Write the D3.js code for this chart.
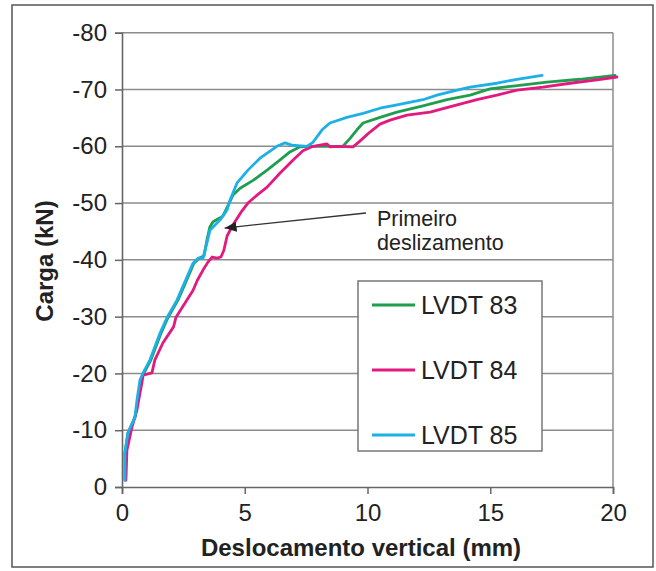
<!DOCTYPE html>
<html>
<head>
<meta charset="utf-8">
<script src="https://cdn.jsdelivr.net/npm/d3@7/dist/d3.min.js"></script>
<style>
html,body{margin:0;padding:0;background:#fff;}
svg{display:block;}
text{font-family:"Liberation Sans",Arial,sans-serif;fill:#222;}
</style>
</head>
<body>
<svg id="chart" width="656" height="571"></svg>
<script>
// ---- data ----
const xTicks = [0, 5, 10, 15, 20];
const yTicks = [0, -10, -20, -30, -40, -50, -60, -70, -80];
const seriesNames = ["LVDT 83", "LVDT 84", "LVDT 85"];

const lvdt83X = [0.12,0.12,0.24,0.53,0.65,0.77,0.90,1.18,1.59,1.87,2.28,2.69,2.93,3.14,3.34,3.46,3.58,3.71,4.11,4.32,4.52,4.81,5.34,5.91,6.44,6.84,7.25,7.66,9.00,9.29,9.57,9.82,10.51,11.20,12.26,13.24,14.18,14.99,15.93,17.31,18.66,20.08];
const lvdt83Y = [-1.2,-6.0,-9.5,-12.3,-15.3,-18.8,-20.1,-22.4,-27.1,-29.8,-32.9,-37.0,-39.4,-40.3,-40.7,-43.5,-45.8,-46.7,-47.7,-49.6,-51.4,-52.6,-54.0,-55.8,-57.6,-59.0,-59.9,-60.0,-60.0,-61.4,-62.9,-64.1,-65.1,-66.0,-67.1,-68.2,-69.0,-70.1,-70.6,-71.3,-71.8,-72.5];

const lvdt84X = [0.16,0.20,0.41,0.61,0.73,0.81,0.86,1.22,1.34,1.67,2.10,2.20,2.89,3.07,3.30,3.50,3.67,3.87,4.03,4.15,4.28,4.40,4.60,4.85,5.13,5.50,5.91,6.44,6.97,7.37,7.78,8.35,8.47,8.76,9.41,9.69,10.10,10.51,10.92,11.61,12.55,13.65,14.46,15.27,16.09,17.15,18.25,19.35,20.16];
const lvdt84Y = [-1.2,-6.5,-10.6,-13.6,-16.5,-18.3,-19.7,-20.1,-22.4,-25.4,-28.2,-29.9,-34.6,-36.4,-38.2,-39.6,-40.5,-40.3,-40.5,-41.7,-44.2,-45.2,-46.7,-48.4,-50.0,-51.4,-52.8,-55.3,-57.6,-59.2,-60.0,-60.4,-59.9,-60.0,-59.9,-60.9,-62.5,-63.9,-64.6,-65.5,-66.0,-67.3,-68.2,-69.0,-69.9,-70.4,-71.1,-71.7,-72.2];

const lvdt85X = [0.12,0.12,0.24,0.53,0.61,0.73,0.86,1.14,1.55,1.83,2.24,2.65,2.89,3.10,3.30,3.46,3.58,3.99,4.28,4.40,4.68,5.13,5.62,6.31,6.64,6.92,7.54,7.78,8.15,8.47,9.16,9.82,10.51,11.20,12.26,12.83,13.65,14.18,15.27,16.09,17.11];
const lvdt85Y = [-1.2,-6.0,-9.5,-12.3,-15.3,-18.8,-20.1,-22.4,-27.1,-29.8,-32.9,-37.0,-39.4,-40.3,-40.3,-43.0,-45.2,-47.0,-48.8,-50.5,-53.5,-55.8,-57.9,-60.0,-60.6,-60.2,-60.0,-60.7,-62.9,-64.1,-65.1,-65.8,-66.7,-67.3,-68.2,-69.0,-69.9,-70.4,-71.1,-71.8,-72.5];

// annotation: arrow points at (x, load)
const annotationText = ["Primeiro", "deslizamento"];
const annotationTarget = [4.18, -45.6];

// ---- styles ----
const colors = ["#1f9e4f", "#e2197f", "#1db0e6"];

const series = [
  {name: seriesNames[0], xs: lvdt83X, ys: lvdt83Y, color: colors[0]},
  {name: seriesNames[1], xs: lvdt84X, ys: lvdt84Y, color: colors[1]},
  {name: seriesNames[2], xs: lvdt85X, ys: lvdt85Y, color: colors[2]}
].map(s => ({...s, pts: s.xs.map((x, i) => [x, s.ys[i]])}));

const svg = d3.select("#chart");
const L = 122, R = 613, T = 32.7, B = 487;
const x = d3.scaleLinear().domain([0, 20]).range([L, R]);
const y = d3.scaleLinear().domain([0, -80]).range([B, T]);

// outer frame
svg.append("rect").attr("x", 12).attr("y", 5).attr("width", 641).attr("height", 562)
  .attr("fill", "#fff").attr("stroke", "#555").attr("stroke-width", 1.5);

// gridlines
svg.append("g").selectAll("line").data(yTicks.filter(d => d !== 0)).join("line")
  .attr("x1", L).attr("x2", R).attr("y1", d => y(d)).attr("y2", d => y(d))
  .attr("stroke", "#8c8c8c").attr("stroke-width", 1.5);

// plot border right
svg.append("line").attr("x1", R).attr("x2", R).attr("y1", T).attr("y2", B)
  .attr("stroke", "#8c8c8c").attr("stroke-width", 1.5);

// axes
const xAxis = d3.axisBottom(x).tickValues(xTicks).tickSize(7).tickPadding(10).tickFormat(d => String(d));
const yAxis = d3.axisLeft(y).tickValues(yTicks).tickSize(7).tickPadding(8).tickFormat(d => String(d));

const gx = svg.append("g").attr("transform", `translate(0,${B})`).call(xAxis);
const gy = svg.append("g").attr("transform", `translate(${L},0)`).call(yAxis);
[gx, gy].forEach(g => {
  g.select(".domain").attr("stroke", "#666").attr("stroke-width", 1.6);
  g.selectAll(".tick line").attr("stroke", "#666").attr("stroke-width", 1.5);
  g.selectAll(".tick text").attr("font-size", 24).attr("fill", "#222")
    .style("font-family", '"Liberation Sans", Arial, sans-serif');
});

// axis titles
svg.append("text").attr("x", 361).attr("y", 556).attr("text-anchor", "middle")
  .attr("font-size", 24).attr("font-weight", "bold").text("Deslocamento vertical (mm)");
svg.append("text").attr("transform", "translate(53,261) rotate(-90)").attr("text-anchor", "middle")
  .attr("font-size", 24).attr("font-weight", "bold").text("Carga (kN)");

// lines
const line = d3.line().x(d => x(d[0])).y(d => y(d[1]));
svg.append("g").selectAll("path").data(series).join("path")
  .attr("d", d => line(d.pts)).attr("fill", "none")
  .attr("stroke", d => d.color).attr("stroke-width", 2.8)
  .attr("stroke-linejoin", "round").attr("stroke-linecap", "round");

// annotation
svg.append("defs").append("marker").attr("id", "arrow")
  .attr("viewBox", "0 0 12 10").attr("refX", 12).attr("refY", 5)
  .attr("markerWidth", 12).attr("markerHeight", 10).attr("markerUnits", "userSpaceOnUse")
  .attr("orient", "auto")
  .append("path").attr("d", "M0,0 L12,5 L0,10 Z").attr("fill", "#222");
svg.append("line").attr("x1", 366).attr("y1", 213)
  .attr("x2", x(annotationTarget[0])).attr("y2", y(annotationTarget[1]))
  .attr("stroke", "#333").attr("stroke-width", 1.3).attr("marker-end", "url(#arrow)");
const at = svg.append("text").attr("x", 377).attr("y", 226).attr("font-size", 21.5);
annotationText.forEach((t, i) => at.append("tspan").attr("x", 377).attr("dy", i === 0 ? 0 : 24).text(t));

// legend
const lg = svg.append("g");
lg.append("rect").attr("x", 358).attr("y", 281).attr("width", 184).attr("height", 170)
  .attr("fill", "#fff").attr("stroke", "#777").attr("stroke-width", 1.5);
const items = lg.selectAll("g.item").data(series).join("g").attr("class", "item")
  .attr("transform", (d, i) => `translate(0,${305 + i * 65})`);
items.append("line").attr("x1", 372).attr("x2", 415).attr("y1", 0).attr("y2", 0)
  .attr("stroke", d => d.color).attr("stroke-width", 3.2);
items.append("text").attr("x", 421).attr("y", 8.5).attr("font-size", 25).text(d => d.name);
</script>
</body>
</html>
